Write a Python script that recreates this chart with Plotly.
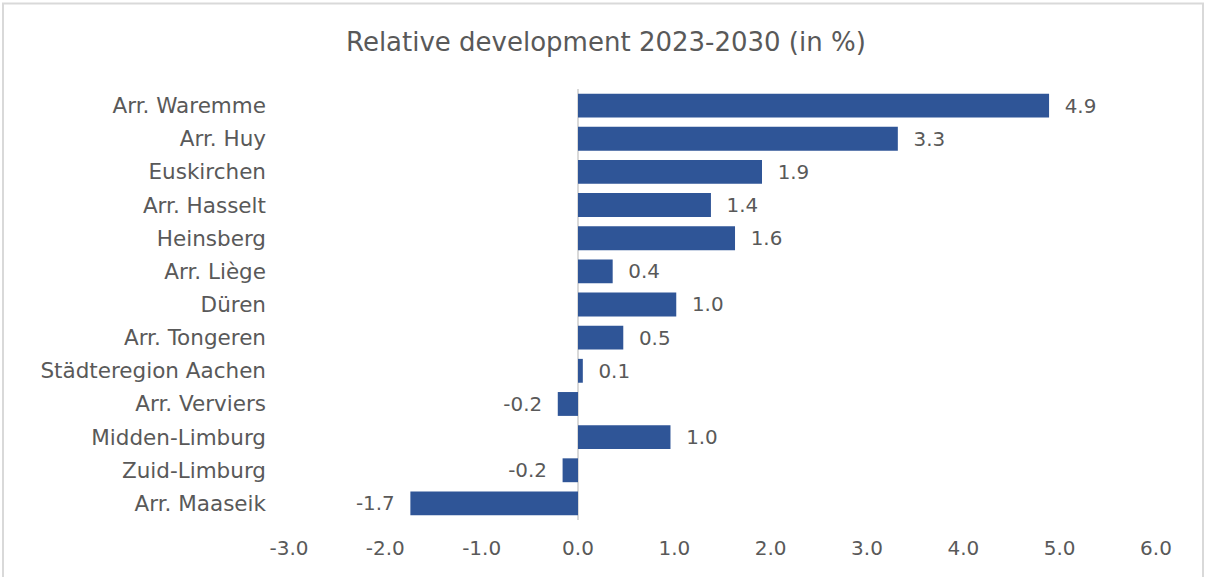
import plotly.graph_objects as go

# Regions, top to bottom as listed on the axis
regions = [
    "Arr. Waremme", "Arr. Huy", "Euskirchen", "Arr. Hasselt", "Heinsberg",
    "Arr. Liège", "Düren", "Arr. Tongeren", "Städteregion Aachen",
    "Arr. Verviers", "Midden-Limburg", "Zuid-Limburg", "Arr. Maaseik",
]
# Relative development 2023-2030, in percent
change_pct = [4.89, 3.32, 1.91, 1.38, 1.63, 0.36, 1.02, 0.47, 0.05,
              -0.21, 0.96, -0.16, -1.74]

tick_vals = [-3, -2, -1, 0, 1, 2, 3, 4, 5, 6]
tick_text = [f"{v:.1f}" for v in tick_vals]

text_color = "#595959"
font_family = "DejaVu Sans, sans-serif"

# Value labels sit a little away from the bar end
pad = "\u00a0\u00a0"
label_templates = [pad + "%{x:.1f}" if v >= 0 else "%{x:.1f}" + pad
                   for v in change_pct]

fig = go.Figure(
    go.Bar(
        y=regions,
        x=change_pct,
        orientation="h",
        marker=dict(color="#2F5597", line=dict(color="#2F5597", width=0)),
        texttemplate=label_templates,
        textposition="outside",
        textfont=dict(size=20, color=text_color, family=font_family),
        cliponaxis=False,
        width=0.72,
    )
)

fig.update_layout(
    width=1207,
    height=577,
    margin=dict(l=289, r=51, t=89, b=57),
    paper_bgcolor="white",
    plot_bgcolor="white",
    showlegend=False,
    title=dict(
        text="Relative development 2023-2030 (in %)",
        x=0.502,
        xref="container",
        xanchor="center",
        y=1 - 42 / 577,
        yref="container",
        yanchor="middle",
        font=dict(size=26, color=text_color, family=font_family),
    ),
    xaxis=dict(
        range=[-3, 6],
        tickvals=tick_vals,
        ticktext=tick_text,
        showgrid=False,
        zeroline=True,
        zerolinecolor="#d9d9d9",
        zerolinewidth=1.5,
        showline=False,
        ticks="",
        tickfont=dict(size=20, color=text_color, family=font_family),
        ticklabelstandoff=14,
    ),
    yaxis=dict(
        categoryorder="array",
        categoryarray=regions[::-1],
        showgrid=False,
        showline=False,
        ticks="",
        tickfont=dict(size=21.5, color=text_color, family=font_family),
        ticklabelstandoff=22,
    ),
    shapes=[
        dict(
            type="rect",
            xref="paper",
            yref="paper",
            x0=(3 - 289) / 867,
            x1=(1203 - 289) / 867,
            y0=-0.3,
            y1=(520 - 3.5) / 431,
            line=dict(color="#d9d9d9", width=2),
            fillcolor="rgba(0,0,0,0)",
            layer="below",
        )
    ],
)

fig.write_html("out.html")
